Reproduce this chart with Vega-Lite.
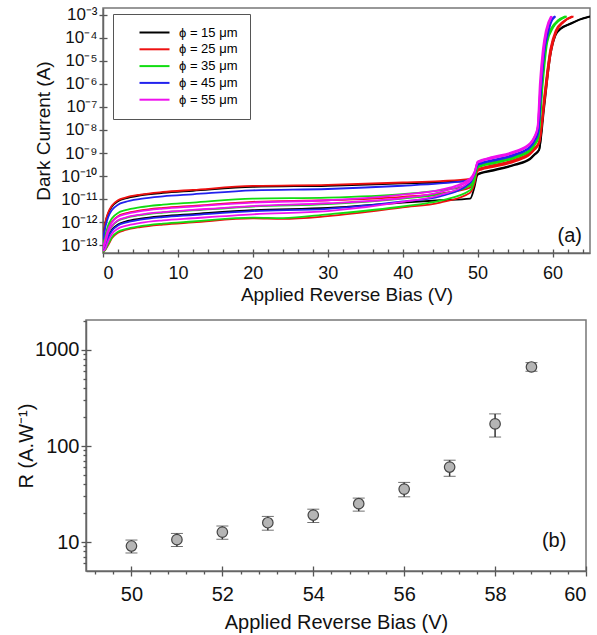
{
"$schema":"https://vega.github.io/schema/vega-lite/v6.json",
"padding":{"left":14,"top":4,"right":0,"bottom":0},
"spacing":14,
"config":{"font":"Liberation Sans","view":{"stroke":"#777","strokeWidth":1.5},
"axis":{"grid":false,"domainColor":"#666","domainWidth":1.5,"tickColor":"#555","tickWidth":1.3,"tickSize":4,"labelColor":"#111","titleColor":"#111","titleFontWeight":"normal","labelFont":"Liberation Sans","titleFont":"Liberation Sans"}},
"datasets":{
"iv":[
{"c":"K1","d":15,"v":0,"i":1.41e-13},{"c":"K1","d":15,"v":0.3,"i":8.51e-13},{"c":"K1","d":15,"v":0.7,"i":2.40e-12},{"c":"K1","d":15,"v":1.2,"i":4.79e-12},{"c":"K1","d":15,"v":2,"i":8.1e-12},{"c":"K1","d":15,"v":3,"i":1.07e-11},{"c":"K1","d":15,"v":5,"i":1.45e-11},{"c":"K1","d":15,"v":8,"i":1.86e-11},{"c":"K1","d":15,"v":12,"i":2.29e-11},{"c":"K1","d":15,"v":20,"i":3.39e-11},{"c":"K1","d":15,"v":30,"i":3.80e-11},{"c":"K1","d":15,"v":40,"i":4.79e-11},{"c":"K1","d":15,"v":45,"i":5.37e-11},{"c":"K1","d":15,"v":49,"i":6.31e-11},{"c":"K1","d":15,"v":49.6,"i":7.94e-11},{"c":"K1","d":15,"v":50,"i":1.12e-10},{"c":"K1","d":15,"v":50.5,"i":1.32e-10},{"c":"K1","d":15,"v":52,"i":1.70e-10},{"c":"K1","d":15,"v":55,"i":3.02e-10},{"c":"K1","d":15,"v":57,"i":5.37e-10},{"c":"K1","d":15,"v":57.6,"i":8.32e-10},{"c":"K1","d":15,"v":58.2,"i":1.32e-9},{"c":"K1","d":15,"v":58.8,"i":1e-7},{"c":"K1","d":15,"v":59.6,"i":1.58e-5},{"c":"K1","d":15,"v":60.3,"i":1.26e-4},{"c":"K1","d":15,"v":61,"i":2.40e-4},{"c":"K1","d":15,"v":62.3,"i":3.98e-4},{"c":"K1","d":15,"v":63.5,"i":6.03e-4},{"c":"K1","d":15,"v":65,"i":8.51e-4},
{"c":"K2","d":15,"v":0,"i":5.01e-14},{"c":"K2","d":15,"v":0.3,"i":8.32e-14},{"c":"K2","d":15,"v":0.7,"i":2.34e-13},{"c":"K2","d":15,"v":1.2,"i":4.68e-13},{"c":"K2","d":15,"v":2,"i":7.94e-13},{"c":"K2","d":15,"v":3,"i":1.05e-12},{"c":"K2","d":15,"v":5,"i":1.41e-12},{"c":"K2","d":15,"v":8,"i":1.82e-12},{"c":"K2","d":15,"v":12,"i":2.24e-12},{"c":"K2","d":15,"v":20,"i":3.31e-12},{"c":"K2","d":15,"v":30,"i":4.17e-12},{"c":"K2","d":15,"v":40,"i":7.08e-12},{"c":"K2","d":15,"v":45,"i":8.91e-12},{"c":"K2","d":15,"v":49,"i":1.05e-11},{"c":"K2","d":15,"v":49.6,"i":3.55e-11},{"c":"K2","d":15,"v":50,"i":1.20e-10},{"c":"K2","d":15,"v":50.5,"i":1.41e-10},{"c":"K2","d":15,"v":52,"i":1.82e-10},{"c":"K2","d":15,"v":55,"i":3.24e-10},{"c":"K2","d":15,"v":57,"i":5.75e-10},{"c":"K2","d":15,"v":57.6,"i":8.91e-10},{"c":"K2","d":15,"v":58.2,"i":1.38e-9},{"c":"K2","d":15,"v":58.9,"i":1e-7},{"c":"K2","d":15,"v":59.7,"i":1.58e-5},{"c":"K2","d":15,"v":60.4,"i":1.26e-4},{"c":"K2","d":15,"v":61.1,"i":2.40e-4},{"c":"K2","d":15,"v":62.4,"i":3.98e-4},{"c":"K2","d":15,"v":63.6,"i":6.03e-4},{"c":"K2","d":15,"v":65,"i":8.32e-4},
{"c":"R1","d":25,"v":0,"i":1.26e-13},{"c":"R1","d":25,"v":0.3,"i":9.33e-13},{"c":"R1","d":25,"v":0.7,"i":2.63e-12},{"c":"R1","d":25,"v":1.2,"i":5.25e-12},{"c":"R1","d":25,"v":2,"i":8.91e-12},{"c":"R1","d":25,"v":3,"i":1.17e-11},{"c":"R1","d":25,"v":5,"i":1.58e-11},{"c":"R1","d":25,"v":8,"i":2.04e-11},{"c":"R1","d":25,"v":12,"i":2.51e-11},{"c":"R1","d":25,"v":20,"i":3.72e-11},{"c":"R1","d":25,"v":30,"i":4.17e-11},{"c":"R1","d":25,"v":40,"i":5.25e-11},{"c":"R1","d":25,"v":45,"i":6.03e-11},{"c":"R1","d":25,"v":49,"i":7.59e-11},{"c":"R1","d":25,"v":49.6,"i":1.12e-10},{"c":"R1","d":25,"v":50,"i":1.82e-10},{"c":"R1","d":25,"v":50.5,"i":2.09e-10},{"c":"R1","d":25,"v":52,"i":2.69e-10},{"c":"R1","d":25,"v":55,"i":4.79e-10},{"c":"R1","d":25,"v":57,"i":9.55e-10},{"c":"R1","d":25,"v":57.6,"i":1.51e-9},{"c":"R1","d":25,"v":58.2,"i":2.82e-9},{"c":"R1","d":25,"v":59,"i":3.16e-7},{"c":"R1","d":25,"v":59.8,"i":3.16e-5},{"c":"R1","d":25,"v":60.5,"i":2.0e-4},{"c":"R1","d":25,"v":61.5,"i":5.01e-4},{"c":"R1","d":25,"v":62.8,"i":8.51e-4},
{"c":"R2","d":25,"v":0,"i":8.91e-14},{"c":"R2","d":25,"v":0.3,"i":1.91e-13},{"c":"R2","d":25,"v":0.7,"i":5.37e-13},{"c":"R2","d":25,"v":1.2,"i":1.07e-12},{"c":"R2","d":25,"v":2,"i":1.82e-12},{"c":"R2","d":25,"v":3,"i":2.40e-12},{"c":"R2","d":25,"v":5,"i":3.24e-12},{"c":"R2","d":25,"v":8,"i":4.17e-12},{"c":"R2","d":25,"v":12,"i":5.13e-12},{"c":"R2","d":25,"v":20,"i":7.59e-12},{"c":"R2","d":25,"v":30,"i":8.91e-12},{"c":"R2","d":25,"v":40,"i":1.26e-11},{"c":"R2","d":25,"v":45,"i":1.74e-11},{"c":"R2","d":25,"v":49,"i":3.16e-11},{"c":"R2","d":25,"v":49.6,"i":7.94e-11},{"c":"R2","d":25,"v":50,"i":1.66e-10},{"c":"R2","d":25,"v":50.5,"i":1.91e-10},{"c":"R2","d":25,"v":52,"i":2.45e-10},{"c":"R2","d":25,"v":55,"i":4.37e-10},{"c":"R2","d":25,"v":57,"i":8.71e-10},{"c":"R2","d":25,"v":57.6,"i":1.38e-9},{"c":"R2","d":25,"v":58.2,"i":2.51e-9},{"c":"R2","d":25,"v":59,"i":2.51e-7},{"c":"R2","d":25,"v":59.8,"i":2.51e-5},{"c":"R2","d":25,"v":60.5,"i":1.78e-4},{"c":"R2","d":25,"v":61.5,"i":4.79e-4},{"c":"R2","d":25,"v":62.7,"i":8.32e-4},
{"c":"R3","d":25,"v":0,"i":5.01e-14},{"c":"R3","d":25,"v":0.3,"i":6.31e-14},{"c":"R3","d":25,"v":0.7,"i":1.02e-13},{"c":"R3","d":25,"v":1.2,"i":2.04e-13},{"c":"R3","d":25,"v":2,"i":3.47e-13},{"c":"R3","d":25,"v":3,"i":4.57e-13},{"c":"R3","d":25,"v":5,"i":6.17e-13},{"c":"R3","d":25,"v":8,"i":7.94e-13},{"c":"R3","d":25,"v":12,"i":9.77e-13},{"c":"R3","d":25,"v":20,"i":1.45e-12},{"c":"R3","d":25,"v":24,"i":1.38e-12},{"c":"R3","d":25,"v":30,"i":1.82e-12},{"c":"R3","d":25,"v":40,"i":4.37e-12},{"c":"R3","d":25,"v":45,"i":7.08e-12},{"c":"R3","d":25,"v":49,"i":1.91e-11},{"c":"R3","d":25,"v":49.6,"i":5.01e-11},{"c":"R3","d":25,"v":50,"i":2.0e-10},{"c":"R3","d":25,"v":50.5,"i":2.29e-10},{"c":"R3","d":25,"v":52,"i":2.95e-10},{"c":"R3","d":25,"v":55,"i":5.25e-10},{"c":"R3","d":25,"v":57,"i":1.05e-9},{"c":"R3","d":25,"v":57.6,"i":1.66e-9},{"c":"R3","d":25,"v":58.2,"i":3.16e-9},{"c":"R3","d":25,"v":58.9,"i":3.16e-7},{"c":"R3","d":25,"v":59.7,"i":3.16e-5},{"c":"R3","d":25,"v":60.4,"i":2.0e-4},{"c":"R3","d":25,"v":61.4,"i":5.01e-4},{"c":"R3","d":25,"v":62.6,"i":8.51e-4},
{"c":"G1","d":35,"v":0,"i":1e-13},{"c":"G1","d":35,"v":0.3,"i":2.63e-13},{"c":"G1","d":35,"v":0.7,"i":7.41e-13},{"c":"G1","d":35,"v":1.2,"i":1.48e-12},{"c":"G1","d":35,"v":2,"i":2.51e-12},{"c":"G1","d":35,"v":3,"i":3.31e-12},{"c":"G1","d":35,"v":5,"i":4.47e-12},{"c":"G1","d":35,"v":8,"i":5.75e-12},{"c":"G1","d":35,"v":12,"i":7.08e-12},{"c":"G1","d":35,"v":20,"i":1.05e-11},{"c":"G1","d":35,"v":30,"i":1.17e-11},{"c":"G1","d":35,"v":40,"i":1.66e-11},{"c":"G1","d":35,"v":45,"i":2.40e-11},{"c":"G1","d":35,"v":49,"i":4.17e-11},{"c":"G1","d":35,"v":49.6,"i":1e-10},{"c":"G1","d":35,"v":50,"i":2.51e-10},{"c":"G1","d":35,"v":50.5,"i":2.95e-10},{"c":"G1","d":35,"v":52,"i":3.80e-10},{"c":"G1","d":35,"v":55,"i":6.76e-10},{"c":"G1","d":35,"v":57,"i":1.35e-9},{"c":"G1","d":35,"v":57.6,"i":2.40e-9},{"c":"G1","d":35,"v":58.1,"i":5.01e-9},{"c":"G1","d":35,"v":58.6,"i":1e-6},{"c":"G1","d":35,"v":59.2,"i":6.31e-5},{"c":"G1","d":35,"v":60,"i":2.82e-4},{"c":"G1","d":35,"v":60.8,"i":5.62e-4},{"c":"G1","d":35,"v":61.8,"i":8.51e-4},
{"c":"G2","d":35,"v":0,"i":7.08e-14},{"c":"G2","d":35,"v":0.3,"i":1.20e-13},{"c":"G2","d":35,"v":0.7,"i":3.39e-13},{"c":"G2","d":35,"v":1.2,"i":6.76e-13},{"c":"G2","d":35,"v":2,"i":1.15e-12},{"c":"G2","d":35,"v":3,"i":1.51e-12},{"c":"G2","d":35,"v":5,"i":2.04e-12},{"c":"G2","d":35,"v":8,"i":2.63e-12},{"c":"G2","d":35,"v":12,"i":3.24e-12},{"c":"G2","d":35,"v":20,"i":4.79e-12},{"c":"G2","d":35,"v":30,"i":6.03e-12},{"c":"G2","d":35,"v":40,"i":1.05e-11},{"c":"G2","d":35,"v":45,"i":1.66e-11},{"c":"G2","d":35,"v":49,"i":3.80e-11},{"c":"G2","d":35,"v":49.6,"i":1e-10},{"c":"G2","d":35,"v":50,"i":2.29e-10},{"c":"G2","d":35,"v":50.5,"i":2.69e-10},{"c":"G2","d":35,"v":52,"i":3.47e-10},{"c":"G2","d":35,"v":55,"i":6.17e-10},{"c":"G2","d":35,"v":57,"i":1.23e-9},{"c":"G2","d":35,"v":57.6,"i":2.19e-9},{"c":"G2","d":35,"v":58.1,"i":4.47e-9},{"c":"G2","d":35,"v":58.7,"i":1e-6},{"c":"G2","d":35,"v":59.3,"i":6.31e-5},{"c":"G2","d":35,"v":60.1,"i":2.82e-4},{"c":"G2","d":35,"v":60.9,"i":5.62e-4},{"c":"G2","d":35,"v":61.9,"i":8.51e-4},
{"c":"G3","d":35,"v":0,"i":5.01e-14},{"c":"G3","d":35,"v":0.3,"i":6.31e-14},{"c":"G3","d":35,"v":0.7,"i":1.12e-13},{"c":"G3","d":35,"v":1.2,"i":2.24e-13},{"c":"G3","d":35,"v":2,"i":3.80e-13},{"c":"G3","d":35,"v":3,"i":5.01e-13},{"c":"G3","d":35,"v":5,"i":6.76e-13},{"c":"G3","d":35,"v":8,"i":8.71e-13},{"c":"G3","d":35,"v":12,"i":1.07e-12},{"c":"G3","d":35,"v":20,"i":1.58e-12},{"c":"G3","d":35,"v":24,"i":1.51e-12},{"c":"G3","d":35,"v":30,"i":2.19e-12},{"c":"G3","d":35,"v":40,"i":4.79e-12},{"c":"G3","d":35,"v":45,"i":8.51e-12},{"c":"G3","d":35,"v":49,"i":2.40e-11},{"c":"G3","d":35,"v":49.6,"i":7.08e-11},{"c":"G3","d":35,"v":50,"i":2.69e-10},{"c":"G3","d":35,"v":50.5,"i":3.16e-10},{"c":"G3","d":35,"v":52,"i":4.07e-10},{"c":"G3","d":35,"v":55,"i":7.24e-10},{"c":"G3","d":35,"v":57,"i":1.45e-9},{"c":"G3","d":35,"v":57.6,"i":2.57e-9},{"c":"G3","d":35,"v":58.1,"i":5.37e-9},{"c":"G3","d":35,"v":58.6,"i":1e-6},{"c":"G3","d":35,"v":59.1,"i":6.31e-5},{"c":"G3","d":35,"v":59.9,"i":2.82e-4},{"c":"G3","d":35,"v":60.7,"i":5.62e-4},{"c":"G3","d":35,"v":61.7,"i":8.51e-4},
{"c":"B1","d":45,"v":0,"i":1.78e-13},{"c":"B1","d":45,"v":0.3,"i":6.03e-13},{"c":"B1","d":45,"v":0.7,"i":1.70e-12},{"c":"B1","d":45,"v":1.2,"i":3.39e-12},{"c":"B1","d":45,"v":2,"i":5.75e-12},{"c":"B1","d":45,"v":3,"i":7.59e-12},{"c":"B1","d":45,"v":5,"i":1.02e-11},{"c":"B1","d":45,"v":8,"i":1.32e-11},{"c":"B1","d":45,"v":12,"i":1.62e-11},{"c":"B1","d":45,"v":20,"i":2.40e-11},{"c":"B1","d":45,"v":30,"i":2.75e-11},{"c":"B1","d":45,"v":40,"i":3.80e-11},{"c":"B1","d":45,"v":45,"i":4.79e-11},{"c":"B1","d":45,"v":49,"i":6.61e-11},{"c":"B1","d":45,"v":49.6,"i":1.41e-10},{"c":"B1","d":45,"v":50,"i":3.31e-10},{"c":"B1","d":45,"v":50.5,"i":3.80e-10},{"c":"B1","d":45,"v":52,"i":5.01e-10},{"c":"B1","d":45,"v":55,"i":8.91e-10},{"c":"B1","d":45,"v":57,"i":1.91e-9},{"c":"B1","d":45,"v":57.6,"i":3.55e-9},{"c":"B1","d":45,"v":58.1,"i":8.91e-9},{"c":"B1","d":45,"v":58.5,"i":1e-6},{"c":"B1","d":45,"v":59,"i":5.01e-5},{"c":"B1","d":45,"v":59.3,"i":1.58e-4},{"c":"B1","d":45,"v":59.7,"i":5.01e-4},{"c":"B1","d":45,"v":60.3,"i":8.51e-4},
{"c":"B2","d":45,"v":0,"i":6.31e-14},{"c":"B2","d":45,"v":0.3,"i":7.59e-14},{"c":"B2","d":45,"v":0.7,"i":2.14e-13},{"c":"B2","d":45,"v":1.2,"i":4.27e-13},{"c":"B2","d":45,"v":2,"i":7.24e-13},{"c":"B2","d":45,"v":3,"i":9.55e-13},{"c":"B2","d":45,"v":5,"i":1.29e-12},{"c":"B2","d":45,"v":8,"i":1.66e-12},{"c":"B2","d":45,"v":12,"i":2.04e-12},{"c":"B2","d":45,"v":20,"i":3.02e-12},{"c":"B2","d":45,"v":30,"i":3.80e-12},{"c":"B2","d":45,"v":40,"i":7.94e-12},{"c":"B2","d":45,"v":45,"i":1.32e-11},{"c":"B2","d":45,"v":49,"i":5.01e-11},{"c":"B2","d":45,"v":49.6,"i":1.26e-10},{"c":"B2","d":45,"v":50,"i":3.02e-10},{"c":"B2","d":45,"v":50.5,"i":3.47e-10},{"c":"B2","d":45,"v":52,"i":4.57e-10},{"c":"B2","d":45,"v":55,"i":8.13e-10},{"c":"B2","d":45,"v":57,"i":1.74e-9},{"c":"B2","d":45,"v":57.6,"i":3.24e-9},{"c":"B2","d":45,"v":58.1,"i":7.94e-9},{"c":"B2","d":45,"v":58.5,"i":7.94e-7},{"c":"B2","d":45,"v":59,"i":3.98e-5},{"c":"B2","d":45,"v":59.3,"i":1.12e-4},{"c":"B2","d":45,"v":59.8,"i":4.47e-4},{"c":"B2","d":45,"v":60.4,"i":8.51e-4},
{"c":"M1","d":55,"v":0,"i":7.94e-14},{"c":"M1","d":55,"v":0.3,"i":1.78e-13},{"c":"M1","d":55,"v":0.7,"i":5.01e-13},{"c":"M1","d":55,"v":1.2,"i":1e-12},{"c":"M1","d":55,"v":2,"i":1.70e-12},{"c":"M1","d":55,"v":3,"i":2.24e-12},{"c":"M1","d":55,"v":5,"i":3.02e-12},{"c":"M1","d":55,"v":8,"i":3.89e-12},{"c":"M1","d":55,"v":12,"i":4.79e-12},{"c":"M1","d":55,"v":20,"i":7.08e-12},{"c":"M1","d":55,"v":30,"i":8.91e-12},{"c":"M1","d":55,"v":40,"i":1.58e-11},{"c":"M1","d":55,"v":45,"i":2.51e-11},{"c":"M1","d":55,"v":49,"i":7.94e-11},{"c":"M1","d":55,"v":49.6,"i":1.58e-10},{"c":"M1","d":55,"v":50,"i":3.98e-10},{"c":"M1","d":55,"v":50.5,"i":4.68e-10},{"c":"M1","d":55,"v":52,"i":6.31e-10},{"c":"M1","d":55,"v":55,"i":1.12e-9},{"c":"M1","d":55,"v":57,"i":2.51e-9},{"c":"M1","d":55,"v":57.6,"i":5.01e-9},{"c":"M1","d":55,"v":58,"i":1.26e-8},{"c":"M1","d":55,"v":58.4,"i":1e-6},{"c":"M1","d":55,"v":58.8,"i":3.16e-5},{"c":"M1","d":55,"v":59.2,"i":2.0e-4},{"c":"M1","d":55,"v":59.9,"i":8.51e-4},
{"c":"M3","d":55,"v":0,"i":7.08e-14},{"c":"M3","d":55,"v":0.3,"i":1.26e-13},{"c":"M3","d":55,"v":0.7,"i":3.55e-13},{"c":"M3","d":55,"v":1.2,"i":7.08e-13},{"c":"M3","d":55,"v":2,"i":1.20e-12},{"c":"M3","d":55,"v":3,"i":1.58e-12},{"c":"M3","d":55,"v":5,"i":2.14e-12},{"c":"M3","d":55,"v":8,"i":2.75e-12},{"c":"M3","d":55,"v":12,"i":3.39e-12},{"c":"M3","d":55,"v":20,"i":5.01e-12},{"c":"M3","d":55,"v":30,"i":6.61e-12},{"c":"M3","d":55,"v":40,"i":1.12e-11},{"c":"M3","d":55,"v":45,"i":2.0e-11},{"c":"M3","d":55,"v":49,"i":7.08e-11},{"c":"M3","d":55,"v":49.6,"i":1.51e-10},{"c":"M3","d":55,"v":50,"i":3.72e-10},{"c":"M3","d":55,"v":50.5,"i":4.37e-10},{"c":"M3","d":55,"v":52,"i":5.89e-10},{"c":"M3","d":55,"v":55,"i":1.05e-9},{"c":"M3","d":55,"v":57,"i":2.34e-9},{"c":"M3","d":55,"v":57.6,"i":4.68e-9},{"c":"M3","d":55,"v":58,"i":1.12e-8},{"c":"M3","d":55,"v":58.4,"i":7.94e-7},{"c":"M3","d":55,"v":58.8,"i":2.51e-5},{"c":"M3","d":55,"v":59.2,"i":1.78e-4},{"c":"M3","d":55,"v":59.9,"i":8.51e-4},
{"c":"M2","d":55,"v":0,"i":5.62e-14},{"c":"M2","d":55,"v":0.3,"i":7.08e-14},{"c":"M2","d":55,"v":0.7,"i":1.55e-13},{"c":"M2","d":55,"v":1.2,"i":3.09e-13},{"c":"M2","d":55,"v":2,"i":5.25e-13},{"c":"M2","d":55,"v":3,"i":6.92e-13},{"c":"M2","d":55,"v":5,"i":9.33e-13},{"c":"M2","d":55,"v":8,"i":1.20e-12},{"c":"M2","d":55,"v":12,"i":1.48e-12},{"c":"M2","d":55,"v":20,"i":2.19e-12},{"c":"M2","d":55,"v":30,"i":3.02e-12},{"c":"M2","d":55,"v":40,"i":7.59e-12},{"c":"M2","d":55,"v":45,"i":1.51e-11},{"c":"M2","d":55,"v":49,"i":6.03e-11},{"c":"M2","d":55,"v":49.6,"i":1.41e-10},{"c":"M2","d":55,"v":50,"i":4.27e-10},{"c":"M2","d":55,"v":50.5,"i":5.01e-10},{"c":"M2","d":55,"v":52,"i":6.76e-10},{"c":"M2","d":55,"v":55,"i":1.20e-9},{"c":"M2","d":55,"v":57,"i":2.69e-9},{"c":"M2","d":55,"v":57.6,"i":5.37e-9},{"c":"M2","d":55,"v":58,"i":1.41e-8},{"c":"M2","d":55,"v":58.3,"i":1e-6},{"c":"M2","d":55,"v":58.7,"i":3.16e-5},{"c":"M2","d":55,"v":59.1,"i":2.0e-4},{"c":"M2","d":55,"v":59.8,"i":8.51e-4}
],
"r":[
{"x":50,"r":9.1,"lo":7.7,"hi":10.5},{"x":51,"r":10.6,"lo":9.0,"hi":12.3},{"x":52,"r":12.7,"lo":10.7,"hi":14.7},{"x":53,"r":15.9,"lo":13.3,"hi":18.5},{"x":54,"r":19.1,"lo":16.0,"hi":22.0},{"x":55,"r":25.1,"lo":21.0,"hi":28.7},{"x":56,"r":35.6,"lo":29.6,"hi":41.8},{"x":57,"r":60.4,"lo":48.4,"hi":71.2},{"x":58,"r":170,"lo":124,"hi":216},{"x":58.8,"r":665,"lo":600,"hi":738}
]},
"vconcat":[
{"spacing":0,"hconcat":[
{"width":19,"height":1,"view":{"stroke":null},"mark":{"type":"point","opacity":0}},
{
"width":487,"height":245,
"resolve":{"axis":{"x":"independent","y":"independent"}},
"encoding":{
"x":{"field":"v","type":"quantitative","scale":{"domain":[0,65],"nice":false,"zero":false},"axis":{"orient":"bottom","values":[0,10,20,30,40,50,60],"title":"Applied Reverse Bias (V)","labelFontSize":18,"titleFontSize":19,"labelPadding":7,"titlePadding":3}},
"y":{"field":"i","type":"quantitative","scale":{"type":"log","domain":[4.6e-14,1.95e-3],"nice":false},"axis":{"orient":"left","values":[1e-3,1e-4,1e-5,1e-6,1e-7,1e-8,1e-9,1e-10,1e-11,1e-12,1e-13],"labelExpr":"'10⁻' + (round(-log(datum.value)/LN10) >= 10 ? '¹' : '') + ['⁰','¹','²','³','⁴','⁵','⁶','⁷','⁸','⁹'][round(-log(datum.value)/LN10) % 10]","title":"Dark Current (A)","titleX":-50,"labelFontSize":17,"titleFontSize":19,"labelPadding":2}}
},
"layer":[
{"data":{"name":"iv"},"mark":{"type":"line","strokeWidth":1.8,"clip":true,"interpolate":"monotone"},
"encoding":{"color":{"field":"d","type":"nominal","scale":{"domain":[15,25,35,45,55],"range":["#000000","#ee1111","#11dd11","#2222ee","#ee11ee"]},
"legend":{"orient":"none","legendX":99,"legendY":6,"title":null,"symbolType":"M-3,0H3","symbolSize":100,"symbolStrokeWidth":2,"symbolOffset":23,"labelFontSize":13,"labelOffset":18,"padding":12,"rowPadding":2.8,"strokeColor":"#555","fillColor":"white","labelExpr":"'ϕ = ' + datum.label + ' μm'"}},
"detail":{"field":"c"}}},
{"data":{"values":[{"v":62.3,"i":2.5e-13,"t":"(a)"}]},"mark":{"type":"text","fontSize":20,"color":"#111"},
"encoding":{"text":{"field":"t"},
"x":{"field":"v","type":"quantitative","axis":{"orient":"bottom","values":[2,4,6,8,10,12,14,16,18,20,22,24,26,28,30,32,34,36,38,40,42,44,46,48,50,52,54,56,58,60,62,64],"labels":false,"domain":false,"tickSize":-4,"title":null}},
"y":{"field":"i","type":"quantitative","axis":{"orient":"left","values":[1e-3,1e-4,1e-5,1e-6,1e-7,1e-8,1e-9,1e-10,1e-11,1e-12,1e-13],"labels":false,"domain":false,"tickSize":-4,"title":null}}}}
]
}
]},
{"spacing":0,"hconcat":[
{"width":1,"height":1,"view":{"stroke":null},"mark":{"type":"point","opacity":0}},
{
"width":500,"height":251,
"data":{"name":"r"},
"resolve":{"axis":{"x":"independent","y":"independent"}},
"encoding":{"x":{"field":"x","type":"quantitative","scale":{"domain":[49,60],"nice":false,"zero":false},"axis":{"orient":"bottom","values":[50,52,54,56,58,60],"title":"Applied Reverse Bias (V)","labelFontSize":20,"titleFontSize":20,"labelPadding":8,"titlePadding":8,"tickSize":5}}},
"layer":[
{"mark":{"type":"errorbar","ticks":{"size":12,"color":"#333","strokeWidth":1.5},"rule":{"color":"#333","strokeWidth":1.5}},
"encoding":{"y":{"field":"lo","type":"quantitative","scale":{"type":"log","domain":[5,2050],"nice":false},"axis":{"orient":"left","values":[10,100,1000],"format":"d","title":"R (A.W⁻¹)","titleX":-50,"labelFontSize":20,"titleFontSize":20,"labelPadding":2,"tickSize":5}},"y2":{"field":"hi"}}},
{"mark":{"type":"circle","size":110,"fill":"#b5b5b5","stroke":"#444","strokeWidth":1.2,"opacity":1},
"encoding":{
"x":{"field":"x","type":"quantitative","axis":{"orient":"bottom","values":[50,52,54,56,58,60],"labels":false,"domain":false,"tickSize":-5,"title":null}},
"y":{"field":"r","type":"quantitative","axis":{"orient":"left","values":[10,100,1000],"labels":false,"domain":false,"tickSize":-5,"title":null}}}},
{"data":{"values":[{"x":59.3,"r":10.2,"t":"(b)"}]},"mark":{"type":"text","fontSize":20,"color":"#111"},
"encoding":{"text":{"field":"t"},
"x":{"field":"x","type":"quantitative","axis":{"orient":"bottom","values":[49.2,49.6,50.4,50.8,51.2,51.6,52.4,52.8,53.2,53.6,54.4,54.8,55.2,55.6,56.4,56.8,57.2,57.6,58.4,58.8,59.2,59.6],"labels":false,"domain":false,"tickSize":3,"title":null}},
"y":{"field":"r","type":"quantitative","axis":{"orient":"left","values":[6,7,8,9,20,30,40,50,60,70,80,90,200,300,400,500,600,700,800,900,2000],"labels":false,"domain":false,"tickSize":3,"title":null}}}}
]
}
]}
]
}
